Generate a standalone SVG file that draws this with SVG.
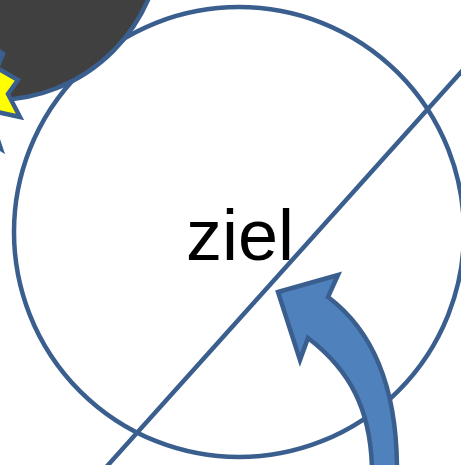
<svg xmlns="http://www.w3.org/2000/svg" width="461" height="465" viewBox="0 0 461 465">
<style>
.ln{fill:none;stroke:#3a5f8e;stroke-width:4.5}
.sh{stroke:#3a5f8e;stroke-width:4.5;stroke-linejoin:miter}
</style>
<rect width="461" height="465" fill="#fff"/>
<g id="target">
<circle class="ln" cx="239" cy="232" r="225" stroke-width="5"/>
</g>
<g id="connectors">
<line class="ln" x1="100" y1="474" x2="470" y2="62"/>
</g>
<g id="dark">
<circle class="sh" cx="-5" cy="-67" r="167" fill="#404040"/>
</g>
<g id="star">
<polygon class="sh" fill="#ffff00" points="-15,40 3,54 -3,68 18,80 8,94 20,117 -12,110 1,149 -30,130"/>
</g>
<g id="arrow">
<path class="sh" fill="#4f81bd" d="M278,292 L338,275 L328,297 C372,330 397,385 397,470 L372,470 C371,410 350,370 308,338 L300,360 Z"/>
</g>
<g id="label">
<text x="240" y="260" font-family="Liberation Sans, Arial, sans-serif" font-size="72" text-anchor="middle" fill="#000">ziel</text>
</g>
</svg>
